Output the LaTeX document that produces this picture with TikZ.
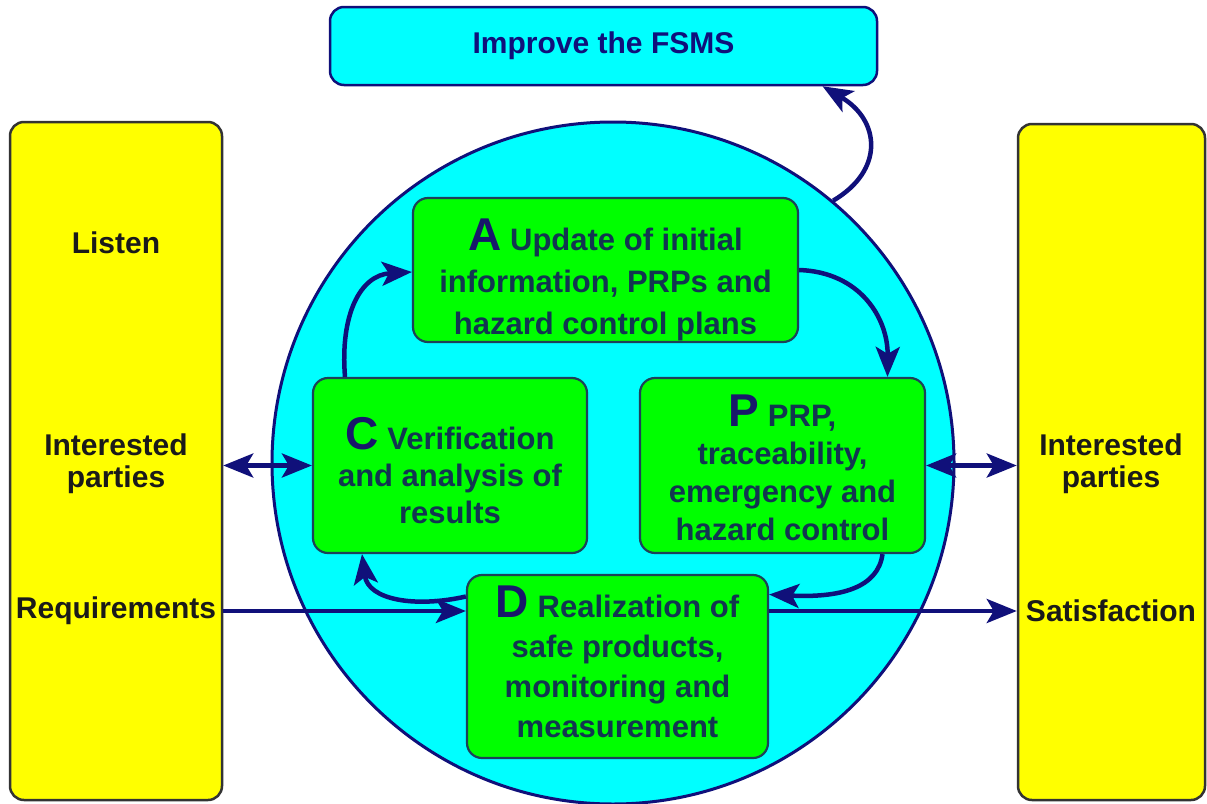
\documentclass[tikz,border=0pt]{standalone}
\usepackage{fontspec}
\setmainfont{Liberation Sans}
\usetikzlibrary{arrows.meta,calc}
\definecolor{navy}{HTML}{10107A}
\definecolor{boxline}{HTML}{1D4258}
\definecolor{bodytext}{HTML}{123650}
\definecolor{bigtext}{HTML}{18186A}
\definecolor{ylw}{HTML}{FFFF00}
\definecolor{cyn}{HTML}{00FFFF}
\definecolor{grn}{HTML}{00FF00}
\definecolor{ytext}{HTML}{1A1A1A}
\newcommand{\BigLet}[1]{{\fontsize{46}{46}\selectfont\color{bigtext}#1}}
\begin{document}
\begin{tikzpicture}[x=1pt,y=-1pt,
  ybox/.style={draw=black!80, line width=2.5pt, fill=ylw, rounded corners=14pt, inner sep=0pt},
  ylab/.style={text=ytext, font=\fontsize{30}{32}\selectfont\bfseries, align=center},
  gbox/.style={draw=boxline, line width=2.2pt, fill=grn, rounded corners=15pt, inner sep=0pt},
  gtext/.style={text=bodytext, align=center, inner sep=0pt},
  topbox/.style={draw=navy, line width=2.5pt, fill=cyn, rounded corners=14pt, inner sep=0pt,
     text=navy, font=\fontsize{30}{33}\selectfont\bfseries},
  arr/.style={draw=navy, line width=4.5pt, -{Stealth[length=30pt,width=24pt,inset=7pt]}},
  dbl/.style={draw=navy, line width=4.5pt, {Stealth[length=30pt,width=24pt,inset=7pt]}-{Stealth[length=30pt,width=24pt,inset=7pt]}}
]
\useasboundingbox (0,0) rectangle (1207,803);
\fill[white] (0,0) rectangle (1207,803);

% side columns
\node[ybox, minimum width=212, minimum height=678] (lbox) at (116,461) {};
\node[ybox, minimum width=187, minimum height=676] (rbox) at (1111.5,462) {};

% circle
\node[circle, draw=navy, line width=3pt, fill=cyn, minimum size=682, inner sep=0pt] (circ) at (613,463) {};

% top box
\node[topbox, minimum width=547, minimum height=78] (top) at (603.5,46) {Improve the FSMS};

% labels in the columns
\node[ylab] (listen) at (116,243) {Listen};
\node[ylab] (lip) at (116,464) {Interested\\parties};
\node[ylab] (req) at (116,611) {Requirements};
\node[ylab] (rip) at (1111,464) {Interested\\parties};
\node[ylab] (sat) at (1111,611) {Satisfaction};

% green boxes
\node[gbox, minimum width=385, minimum height=144] (A) at (605.5,270) {};
\node[gbox, minimum width=274, minimum height=175] (C) at (450,465.5) {};
\node[gbox, minimum width=285, minimum height=175] (P) at (782.5,465.5) {};
\node[gbox, minimum width=301, minimum height=183] (D) at (617.5,666.5) {};

\node[gtext, font=\fontsize{31}{42}\selectfont\bfseries] (Atxt) at (605.5,280)
  {\BigLet{A} Update of initial\\information, PRPs and\\hazard control plans};
\node[gtext, font=\fontsize{31}{37}\selectfont\bfseries] (Ctxt) at (450,471)
  {\BigLet{C} Verification\\and analysis of\\results};
\node[gtext, font=\fontsize{31}{38}\selectfont\bfseries] (Ptxt) at (782.5,468)
  {\BigLet{P} PRP,\\traceability,\\emergency and\\hazard control};
\node[gtext, font=\fontsize{31}{40}\selectfont\bfseries] (Dtxt) at (617.5,662)
  {\BigLet{D} Realization of\\safe products,\\monitoring and\\measurement};

% straight connectors
\draw[dbl] (C.west) -- (C.west -| lbox.east);
\draw[dbl] (P.east) -- (P.east -| rbox.west);
\draw[arr] (lbox.east |- req) -- (D.west |- req);
\draw[arr] (D.east |- sat) -- (rbox.west |- sat);

% cycle
\draw[arr] (A.east) .. controls (860,272) and (888,318) .. ($(P.north)+(105,0)$);
\draw[arr] ($(P.south)+(100,0)$) .. controls (878,588) and (840,598) .. ($(D.east)+(0,-72)$);
\draw[arr] ($(D.west)+(0,-70)$) .. controls (415,608) and (368,600) .. ($(C.south)+(-88,0)$);
\draw[arr] ($(C.north)+(-105,0)$) .. controls (340,315) and (360,275) .. ($(A.west)+(0,2)$);

% improve
\draw[arr] (circ.50) .. controls (885,170) and (880,120) .. ($(top.south)+(219,0)$);
\end{tikzpicture}
\end{document}
